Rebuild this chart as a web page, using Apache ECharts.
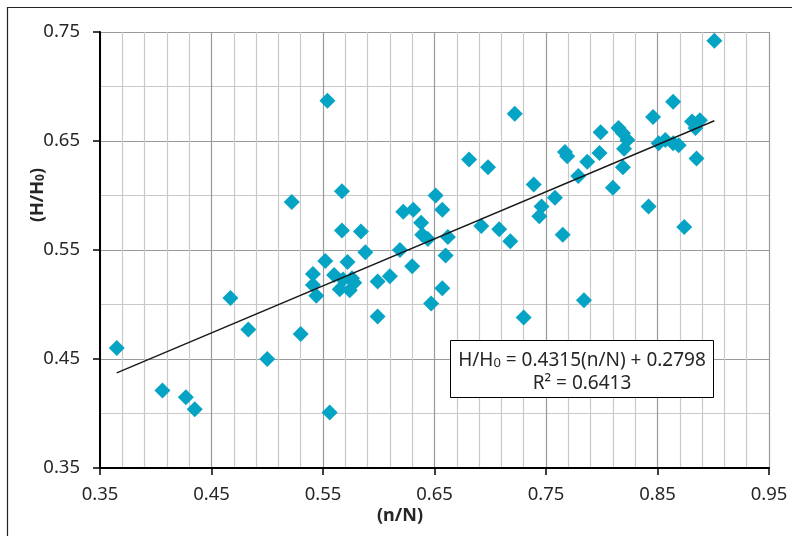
<!DOCTYPE html>
<html>
<head>
<meta charset="utf-8">
<script src="https://cdn.jsdelivr.net/npm/echarts@6/dist/echarts.min.js"></script>
<style>
html, body { margin: 0; padding: 0; background: #fff; }
#chart { width: 792px; height: 536px; }
</style>
</head>
<body>
<div id="chart"></div>
<script>
// values
var xValues = [0.365, 0.406, 0.427, 0.435, 0.467, 0.483, 0.500, 0.530, 0.556, 0.522,
  0.554, 0.567, 0.567, 0.584, 0.588, 0.552, 0.572, 0.541, 0.560, 0.541,
  0.544, 0.568, 0.576, 0.578, 0.565, 0.574, 0.599, 0.610, 0.599, 0.619,
  0.622, 0.631, 0.630, 0.651, 0.657, 0.638, 0.639, 0.644, 0.662, 0.660,
  0.657, 0.647, 0.681, 0.698, 0.722, 0.692, 0.708, 0.718, 0.730, 0.739,
  0.746, 0.744, 0.758, 0.765, 0.767, 0.769, 0.784, 0.779, 0.787, 0.799,
  0.798, 0.810, 0.819, 0.815, 0.819, 0.823, 0.820, 0.842, 0.846, 0.864,
  0.851, 0.857, 0.864, 0.869, 0.881, 0.888, 0.884, 0.885, 0.874, 0.901];
var yValues = [0.460, 0.421, 0.415, 0.404, 0.506, 0.477, 0.450, 0.473, 0.401, 0.594,
  0.687, 0.604, 0.568, 0.567, 0.548, 0.540, 0.539, 0.528, 0.527, 0.518,
  0.508, 0.523, 0.524, 0.520, 0.514, 0.513, 0.521, 0.526, 0.489, 0.550,
  0.585, 0.587, 0.535, 0.600, 0.587, 0.575, 0.564, 0.560, 0.562, 0.545,
  0.515, 0.501, 0.633, 0.626, 0.675, 0.572, 0.569, 0.558, 0.488, 0.610,
  0.590, 0.581, 0.598, 0.564, 0.640, 0.636, 0.504, 0.618, 0.631, 0.658,
  0.639, 0.607, 0.626, 0.662, 0.657, 0.651, 0.643, 0.590, 0.672, 0.686,
  0.648, 0.651, 0.648, 0.646, 0.668, 0.669, 0.662, 0.634, 0.571, 0.742];
var xTicks = [0.35, 0.45, 0.55, 0.65, 0.75, 0.85, 0.95];
var yTicks = [0.35, 0.45, 0.55, 0.65, 0.75];
var slope = 0.4315, intercept = 0.2798, r2 = 0.6413;

var points = xValues.map(function (x, i) { return [x, yValues[i]]; });
var xMin = Math.min.apply(null, xValues);
var xMax = Math.max.apply(null, xValues);
var trend = [[xMin, slope * xMin + intercept], [xMax, slope * xMax + intercept]];

var MAJOR = '#999999', MINOR = '#c9c9c9';
var FONT = "'Noto Sans', sans-serif";
// vertical grid every 0.01, coloured so that 0.1 lines are dark and 0.02 lines light
var xGridColors = [];
for (var i = 0; i < 10; i++) {
  xGridColors.push(i === 0 ? MAJOR : (i % 2 === 0 ? MINOR : 'rgba(0,0,0,0)'));
}

var tickLabel = {
  formatter: function (v) { return v.toFixed(2); },
  fontFamily: FONT, fontSize: 18.5, color: '#262626'
};

var chart = echarts.init(document.getElementById('chart'));
chart.setOption({
  animation: false,
  backgroundColor: '#fff',
  grid: { left: 100, top: 32, right: 23, bottom: 68 },
  xAxis: [
    // grid-only axis (data axis)
    {
      type: 'value', position: 'top',
      min: 0.35, max: 0.95, interval: 0.01,
      axisLine: { show: false }, axisTick: { show: false }, axisLabel: { show: false },
      splitLine: { show: true, lineStyle: { color: xGridColors, width: 1.2 } }
    },
    // visible axis with ticks and labels
    {
      type: 'value', position: 'bottom',
      min: 0.35, max: 0.95, interval: 0.05,
      axisLine: { show: true, onZero: false, lineStyle: { color: '#000', width: 2 } },
      axisTick: { show: true, length: 7, customValues: xTicks, lineStyle: { color: '#000', width: 1.5 } },
      axisLabel: Object.assign({ customValues: xTicks, margin: 17 }, tickLabel),
      splitLine: { show: false }
    }
  ],
  yAxis: [
    {
      type: 'value', position: 'right',
      min: 0.35, max: 0.75, interval: 0.05,
      axisLine: { show: false }, axisTick: { show: false }, axisLabel: { show: false },
      splitLine: { show: true, lineStyle: { color: [MAJOR, MINOR], width: 1.2 } }
    },
    {
      type: 'value', position: 'left',
      min: 0.35, max: 0.75, interval: 0.05,
      axisLine: { show: true, onZero: false, lineStyle: { color: '#000', width: 2 } },
      axisTick: { show: true, length: 7, customValues: yTicks, lineStyle: { color: '#000', width: 1.5 } },
      axisLabel: Object.assign({ customValues: yTicks, margin: 20 }, tickLabel),
      splitLine: { show: false }
    }
  ],
  series: [
    {
      type: 'scatter',
      xAxisIndex: 0, yAxisIndex: 0,
      data: points,
      symbol: 'diamond',
      symbolSize: 16,
      itemStyle: { color: '#05a3c4', opacity: 1 }
    },
    {
      type: 'line',
      xAxisIndex: 0, yAxisIndex: 0,
      data: trend,
      symbol: 'none',
      lineStyle: { color: '#1a1a1a', width: 1.4 },
      z: 3
    }
  ],
  graphic: [
    {
      type: 'rect', silent: true,
      shape: { x: 7.5, y: 7.5, width: 800, height: 540 },
      style: { fill: 'none', stroke: '#222', lineWidth: 1.2 }
    },
    {
      type: 'text', x: 400, y: 516,
      style: {
        text: '(n/N)', fontFamily: FONT, fontSize: 18, fontWeight: 'bold',
        fill: '#262626', align: 'center', verticalAlign: 'middle'
      }
    },
    {
      type: 'text', x: 35, y: 195, rotation: Math.PI / 2,
      style: {
        text: '{b|(H/H}{s|0}{b|)}',
        rich: {
          b: { fontFamily: FONT, fontSize: 18, fontWeight: 'bold', fill: '#262626', lineHeight: 24, verticalAlign: 'bottom' },
          s: { fontFamily: FONT, fontSize: 12, fontWeight: 'bold', fill: '#262626', lineHeight: 14, verticalAlign: 'bottom' }
        },
        align: 'center', verticalAlign: 'middle'
      }
    },
    {
      type: 'rect', z: 10,
      shape: { x: 450.5, y: 340.5, width: 263, height: 57 },
      style: { fill: '#fff', stroke: '#000', lineWidth: 1 }
    },
    {
      type: 'text', z: 11, x: 582, y: 357,
      style: {
        text: '{t|H/H}{s|0}{t| = ' + slope + '(n/N) + ' + intercept + '}',
        rich: {
          t: { fontFamily: FONT, fontSize: 19, fill: '#262626', lineHeight: 26, verticalAlign: 'bottom' },
          s: { fontFamily: FONT, fontSize: 13, fill: '#262626', lineHeight: 16, verticalAlign: 'bottom' }
        },
        align: 'center', verticalAlign: 'middle'
      }
    },
    {
      type: 'text', z: 11, x: 582, y: 384,
      style: {
        text: 'R\u00b2 = ' + r2,
        fontFamily: FONT, fontSize: 19, fill: '#262626',
        align: 'center', verticalAlign: 'middle'
      }
    }
  ]
});
</script>
</body>
</html>
